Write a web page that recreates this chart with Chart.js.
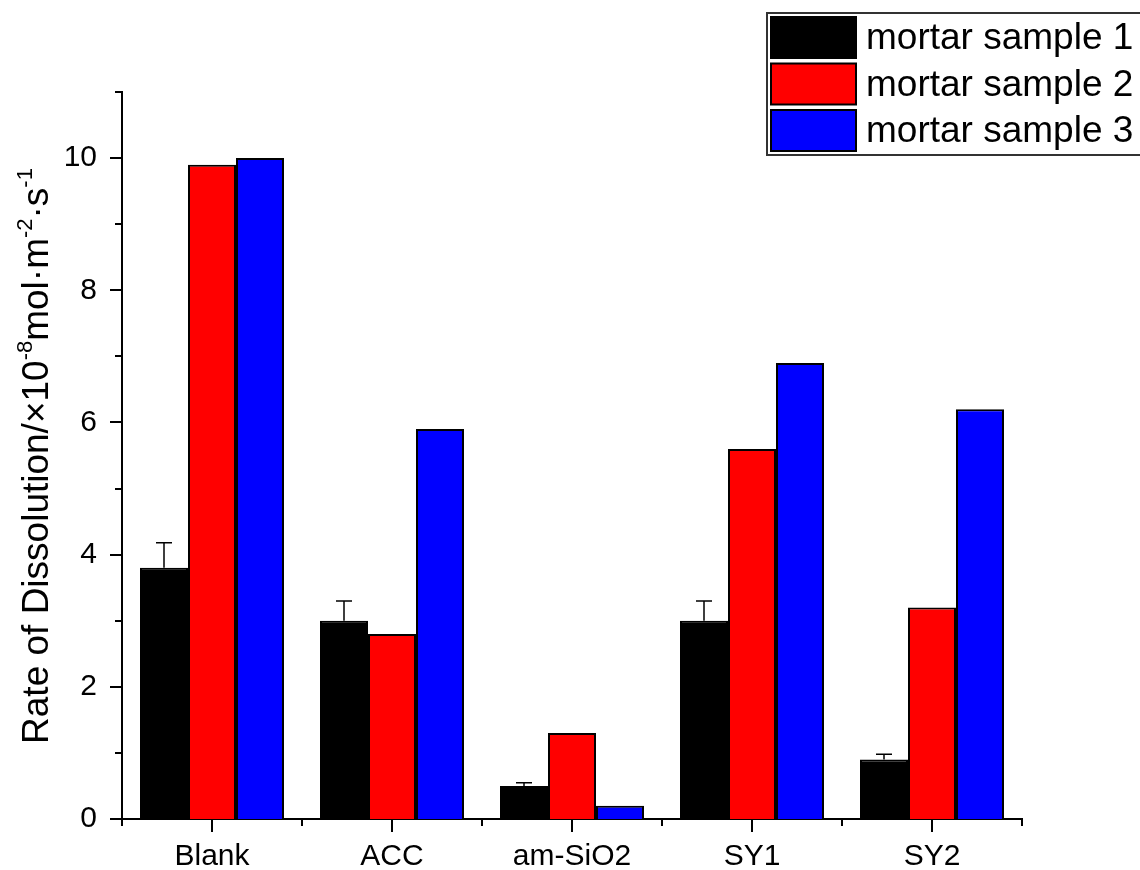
<!DOCTYPE html>
<html>
<head>
<meta charset="utf-8">
<script src="https://cdn.jsdelivr.net/npm/chart.js@4.4.1/dist/chart.umd.min.js"></script>
<style>
  html, body { margin: 0; padding: 0; background: #fff; }
  #wrap { width: 1140px; height: 870px; position: relative; }
</style>
</head>
<body>
<div id="wrap"><canvas id="c" width="1140" height="870"></canvas></div>
<script>
// Dissolution rates of mortar samples (×10^-8 mol·m^-2·s^-1)
const categories = ['Blank', 'ACC', 'am-SiO2', 'SY1', 'SY2'];
const sample1 = [3.8, 3.0, 0.5, 3.0, 0.9];
const sample1Err = [0.38, 0.3, 0.05, 0.3, 0.08];
const sample2 = [9.9, 2.8, 1.3, 5.6, 3.2];
const sample3 = [10.0, 5.9, 0.2, 6.9, 6.2];
const seriesNames = ['mortar sample 1', 'mortar sample 2', 'mortar sample 3'];
const seriesColors = ['#000000', '#ff0000', '#0000ff'];
const yTicks = [0, 2, 4, 6, 8, 10];

const FONT = '"Liberation Sans", Arial, sans-serif';

// Upper error bars with caps on the first series
const errorBars = {
  id: 'errorBars',
  afterDatasetsDraw(chart) {
    const ctx = chart.ctx;
    const y = chart.scales.y;
    const meta = chart.getDatasetMeta(0);
    ctx.save();
    ctx.strokeStyle = '#000';
    ctx.lineWidth = 1.5;
    meta.data.forEach((bar, i) => {
      const top = y.getPixelForValue(sample1[i]);
      const errTop = y.getPixelForValue(sample1[i] + sample1Err[i]);
      ctx.beginPath();
      ctx.moveTo(bar.x, top);
      ctx.lineTo(bar.x, errTop);
      ctx.moveTo(bar.x - 8, errTop);
      ctx.lineTo(bar.x + 8, errTop);
      ctx.stroke();
    });
    ctx.restore();
  }
};

// Outward tick marks: long at labelled values / category centres, short in between
const axisTicks = {
  id: 'axisTicks',
  afterDraw(chart) {
    const ctx = chart.ctx;
    const xs = chart.scales.x, ys = chart.scales.y;
    const area = chart.chartArea;
    ctx.save();
    ctx.strokeStyle = '#000';
    ctx.lineWidth = 2;
    ys.ticks.forEach(t => {
      const py = Math.round(ys.getPixelForValue(t.value));
      const len = yTicks.includes(t.value) ? 12 : 7;
      ctx.beginPath();
      ctx.moveTo(area.left, py);
      ctx.lineTo(area.left - len, py);
      ctx.stroke();
    });
    const n = categories.length;
    const step = (area.right - area.left) / n;
    for (let i = 0; i <= n; i++) {
      const px = Math.round(area.left + i * step);
      ctx.beginPath();
      ctx.moveTo(px, area.bottom);
      ctx.lineTo(px, area.bottom + 7);
      ctx.stroke();
    }
    categories.forEach((c, i) => {
      const px = Math.round(xs.getPixelForValue(i));
      ctx.beginPath();
      ctx.moveTo(px, area.bottom);
      ctx.lineTo(px, area.bottom + 13);
      ctx.stroke();
    });
    ctx.restore();
  }
};

// Y-axis title with superscript exponents
const yTitle = {
  id: 'yTitle',
  afterDraw(chart) {
    const ctx = chart.ctx;
    const parts = [
      ['Rate of Dissolution/×10', false],
      ['-8', true],
      ['mol·m', false],
      ['-2', true],
      ['·s', false],
      ['-1', true]
    ];
    const big = '37px ' + FONT, small = '22px ' + FONT;
    ctx.save();
    let total = 0;
    parts.forEach(p => { ctx.font = p[1] ? small : big; total += ctx.measureText(p[0]).width; });
    ctx.translate(48, 456);
    ctx.rotate(-Math.PI / 2);
    ctx.fillStyle = '#000';
    ctx.textBaseline = 'alphabetic';
    let x = -total / 2;
    parts.forEach(p => {
      ctx.font = p[1] ? small : big;
      ctx.fillText(p[0], x, p[1] ? -16 : 0);
      x += ctx.measureText(p[0]).width;
    });
    ctx.restore();
  }
};

// Boxed legend in the top-right corner
const boxLegend = {
  id: 'boxLegend',
  afterDraw(chart) {
    const ctx = chart.ctx;
    ctx.save();
    ctx.strokeStyle = '#333';
    ctx.lineWidth = 2;
    ctx.strokeRect(767, 13, 380, 142);
    ctx.font = '37px ' + FONT;
    ctx.textBaseline = 'middle';
    chart.data.datasets.forEach((ds, i) => {
      const top = 17 + i * 46.5;
      ctx.fillStyle = ds.backgroundColor;
      ctx.fillRect(771, top, 85, 41);
      ctx.strokeStyle = '#000';
      ctx.lineWidth = 2;
      ctx.strokeRect(771, top, 85, 41);
      ctx.fillStyle = '#000';
      ctx.fillText(ds.label, 866, top + 22);
    });
    ctx.restore();
  }
};

new Chart(document.getElementById('c'), {
  type: 'bar',
  data: {
    labels: categories,
    datasets: [sample1, sample2, sample3].map((d, i) => ({
      label: seriesNames[i],
      data: d,
      backgroundColor: seriesColors[i],
      borderColor: '#000',
      borderWidth: 2,
      categoryPercentage: 0.8,
      barPercentage: 1.0
    }))
  },
  options: {
    responsive: false,
    animation: false,
    devicePixelRatio: 1,
    layout: { padding: { left: 0, top: 92, right: 118, bottom: 0 } },
    plugins: { legend: { display: false }, tooltip: { enabled: false } },
    scales: {
      x: {
        grid: { display: false, drawTicks: false },
        border: { display: true, color: '#000', width: 2 },
        ticks: { color: '#000', font: { family: FONT, size: 30 }, padding: 20, maxRotation: 0 },
        afterFit(s) { s.height = 51; }
      },
      y: {
        min: 0, max: 11,
        grid: { display: false, drawTicks: false },
        border: { display: true, color: '#000', width: 2 },
        ticks: {
          stepSize: 1,
          color: '#000',
          font: { family: FONT, size: 30 },
          padding: 25,
          callback: v => yTicks.includes(v) ? String(v) : ''
        },
        afterFit(s) { s.width = 122; }
      }
    }
  },
  plugins: [errorBars, axisTicks, yTitle, boxLegend]
});
</script>
</body>
</html>
